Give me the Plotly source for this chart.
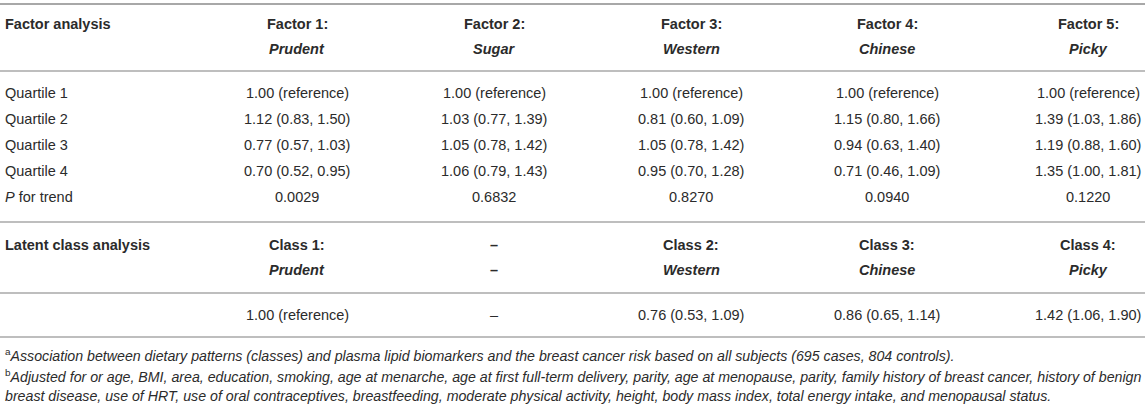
import plotly.graph_objects as go

# ---------------- data ----------------
factor_titles = ["Factor 1:", "Factor 2:", "Factor 3:", "Factor 4:", "Factor 5:"]
factor_names = ["Prudent", "Sugar", "Western", "Chinese", "Picky"]
row_labels = ["Quartile 1", "Quartile 2", "Quartile 3", "Quartile 4", "<i>P</i> for trend"]
prudent_vals = ["1.00 (reference)", "1.12 (0.83, 1.50)", "0.77 (0.57, 1.03)", "0.70 (0.52, 0.95)", "0.0029"]
sugar_vals = ["1.00 (reference)", "1.03 (0.77, 1.39)", "1.05 (0.78, 1.42)", "1.06 (0.79, 1.43)", "0.6832"]
western_vals = ["1.00 (reference)", "0.81 (0.60, 1.09)", "1.05 (0.78, 1.42)", "0.95 (0.70, 1.28)", "0.8270"]
chinese_vals = ["1.00 (reference)", "1.15 (0.80, 1.66)", "0.94 (0.63, 1.40)", "0.71 (0.46, 1.09)", "0.0940"]
picky_vals = ["1.00 (reference)", "1.39 (1.03, 1.86)", "1.19 (0.88, 1.60)", "1.35 (1.00, 1.81)", "0.1220"]

class_titles = ["Class 1:", "–", "Class 2:", "Class 3:", "Class 4:"]
class_names = ["Prudent", "–", "Western", "Chinese", "Picky"]
class_vals = ["1.00 (reference)", "–", "0.76 (0.53, 1.09)", "0.86 (0.65, 1.14)", "1.42 (1.06, 1.90)"]

section1_title = "Factor analysis"
section2_title = "Latent class analysis"
footnotes = [
    "<sup>a</sup><i>Association between dietary patterns (classes) and plasma lipid biomarkers and the breast cancer risk based on all subjects (695 cases, 804 controls).</i>",
    "<sup>b</sup><i>Adjusted for or age, BMI, area, education, smoking, age at menarche, age at first full-term delivery, parity, age at menopause, parity, family history of breast cancer, history of benign</i>",
    "<i>breast disease, use of HRT, use of oral contraceptives, breastfeeding, moderate physical activity, height, body mass index, total energy intake, and menopausal status.</i>",
]

# ---------------- layout constants ----------------
W, H = 1145, 406
FONT = "Liberation Sans, Arial, Helvetica, sans-serif"
TXT = "#2b2b2b"
LINE = "#a8a8a8"
col_x = [297, 494, 691, 887, 1088]
label_x = 3
y_head1, y_head2 = 24, 49
row_y = [93, 119, 145, 171, 197]
y_cls1, y_cls2 = 245, 270
y_cls_val = 315
foot_y = [355, 376, 396]
hlines = [4, 71, 222, 293, 337]
MAIN_SIZE = 14.5
FOOT_SIZE = 14.2

factor_vals = [prudent_vals, sugar_vals, western_vals, chinese_vals, picky_vals]

fig = go.Figure()
fig.add_trace(go.Scatter(x=[0, W], y=[0, H], mode="markers",
                         marker=dict(opacity=0), hoverinfo="skip", showlegend=False))

ann = []


def add(x, y, text, anchor="center", size=MAIN_SIZE):
    ann.append(dict(x=x, y=y, xref="x", yref="y", text=text, showarrow=False,
                    xanchor=anchor, yanchor="middle",
                    font=dict(family=FONT, size=size, color=TXT)))


add(label_x, y_head1, "<b>" + section1_title + "</b>", "left")
for i in range(5):
    add(col_x[i], y_head1, "<b>" + factor_titles[i] + "</b>")
    add(col_x[i], y_head2, "<b><i>" + factor_names[i] + "</i></b>")
for r, lab in enumerate(row_labels):
    add(label_x, row_y[r], lab, "left")
    for i in range(5):
        add(col_x[i], row_y[r], factor_vals[i][r])

add(label_x, y_cls1, "<b>" + section2_title + "</b>", "left")
for i in range(5):
    add(col_x[i], y_cls1, "<b>" + class_titles[i] + "</b>")
    nm = class_names[i]
    add(col_x[i], y_cls2, "<b>" + nm + "</b>" if nm == "–" else "<b><i>" + nm + "</i></b>")
    add(col_x[i], y_cls_val, class_vals[i])

for k, t in enumerate(footnotes):
    add(label_x, foot_y[k], t, "left", size=FOOT_SIZE)

shapes = [dict(type="line", xref="x", yref="y", x0=0, x1=W, y0=y, y1=y,
               line=dict(color=LINE, width=2 if y == hlines[0] else 1.6)) for y in hlines]

fig.update_layout(
    width=W, height=H, margin=dict(l=0, r=0, t=0, b=0),
    paper_bgcolor="white", plot_bgcolor="white",
    xaxis=dict(range=[0, W], visible=False, fixedrange=True),
    yaxis=dict(range=[H, 0], visible=False, fixedrange=True),
    annotations=ann, shapes=shapes,
)
fig.write_html("out.html", config={"displayModeBar": False},
               post_script="document.body.style.margin='0';document.body.style.overflow='hidden';")
